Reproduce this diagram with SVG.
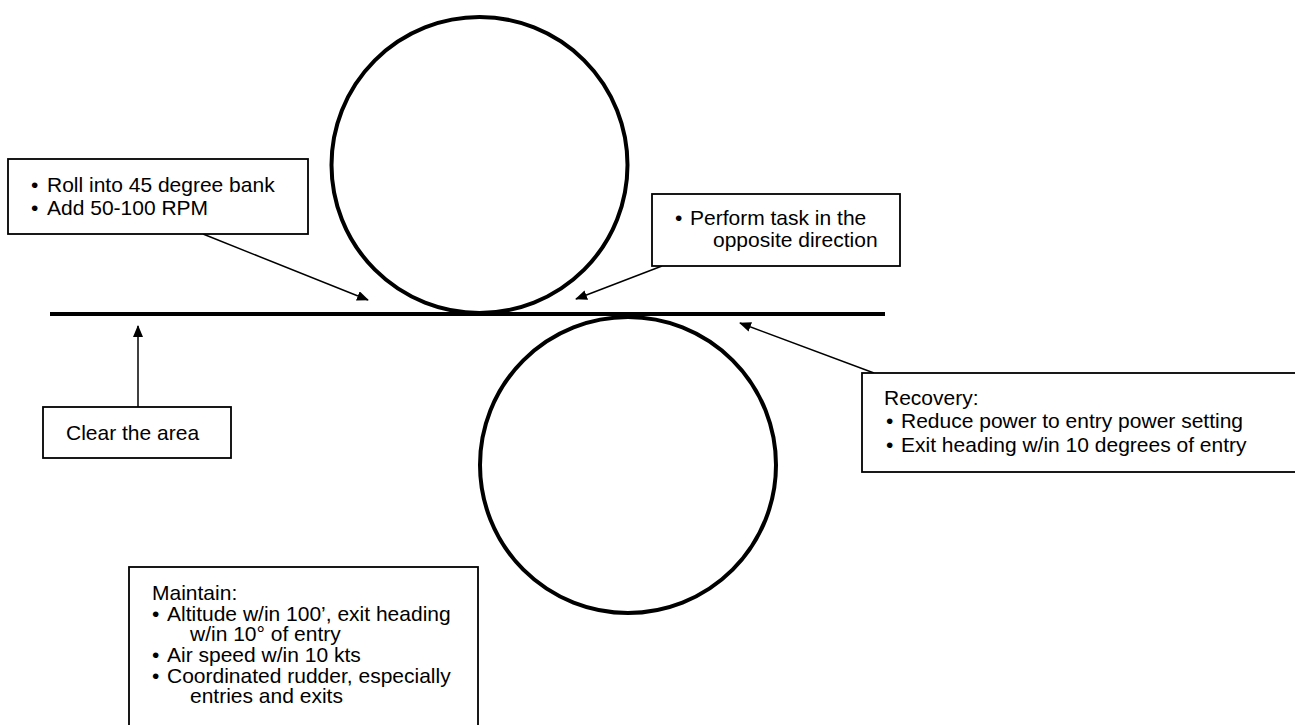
<svg xmlns="http://www.w3.org/2000/svg" width="1295" height="725" viewBox="0 0 1295 725">
<defs>
<style>
.box{fill:#fff;stroke:#000;stroke-width:1.8}
.t{font-family:"Liberation Sans",Arial,sans-serif;font-size:21px;fill:#000}
.conn{stroke:#000;stroke-width:1.5;fill:none}
.thick{stroke:#000;stroke-width:4;fill:none}
</style>
<marker id="ah" markerUnits="userSpaceOnUse" markerWidth="12" markerHeight="10" refX="11" refY="5" orient="auto">
<path d="M0,0 L12,5 L0,10 Z" fill="#000"/>
</marker>
</defs>
<rect width="1295" height="725" fill="#fff"/>
<g id="shapes">
<circle cx="479.5" cy="165" r="148" class="thick"/>
<circle cx="628" cy="465" r="148" class="thick"/>
<line x1="50" y1="314" x2="885" y2="314" class="thick"/>
</g>
<g id="connectors">
<line x1="203" y1="234" x2="368" y2="300" class="conn" marker-end="url(#ah)"/>
<line x1="662" y1="266" x2="576" y2="299" class="conn" marker-end="url(#ah)"/>
<line x1="874" y1="373" x2="740" y2="323" class="conn" marker-end="url(#ah)"/>
<line x1="138" y1="407" x2="138" y2="326" class="conn" marker-end="url(#ah)"/>
</g>
<g id="roll">
<rect x="8" y="159" width="300" height="75" class="box"/>
<text class="t" x="31" y="192">•</text><text class="t" x="47" y="192">Roll into 45 degree bank</text>
<text class="t" x="31" y="215">•</text><text class="t" x="47" y="215">Add 50-100 RPM</text>
</g>
<g id="perform">
<rect x="652" y="194" width="248" height="72" class="box"/>
<text class="t" x="675" y="225">•</text><text class="t" x="690" y="225">Perform task in the</text>
<text class="t" x="713" y="247">opposite direction</text>
</g>
<g id="recovery">
<rect x="862" y="373" width="440" height="99" class="box"/>
<text class="t" x="884" y="405">Recovery:</text>
<text class="t" x="886" y="428">•</text><text class="t" x="901" y="428">Reduce power to entry power setting</text>
<text class="t" x="886" y="452">•</text><text class="t" x="901" y="452">Exit heading w/in 10 degrees of entry</text>
</g>
<g id="clear">
<rect x="43" y="407" width="188" height="51" class="box"/>
<text class="t" x="66" y="440">Clear the area</text>
</g>
<g id="maintain">
<rect x="129" y="567" width="349" height="170" class="box"/>
<text class="t" x="152" y="600">Maintain:</text>
<text class="t" x="152" y="621">•</text><text class="t" x="167" y="621">Altitude w/in 100’, exit heading</text>
<text class="t" x="190" y="641">w/in 10° of entry</text>
<text class="t" x="152" y="662">•</text><text class="t" x="167" y="662">Air speed w/in 10 kts</text>
<text class="t" x="152" y="683">•</text><text class="t" x="167" y="683">Coordinated rudder, especially</text>
<text class="t" x="190" y="703">entries and exits</text>
</g>
</svg>
